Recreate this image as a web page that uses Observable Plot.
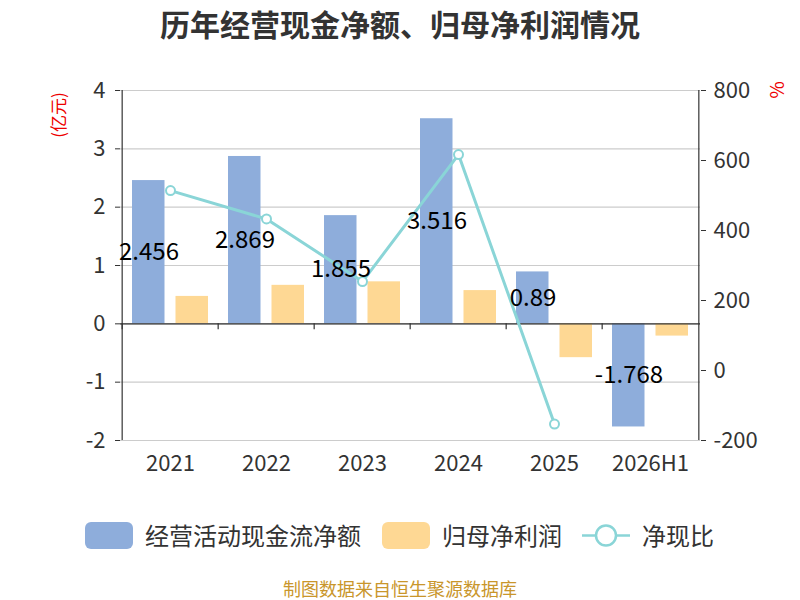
<!DOCTYPE html>
<html><head><meta charset="utf-8">
<script src="https://cdn.jsdelivr.net/npm/d3@7"></script>
<script src="https://cdn.jsdelivr.net/npm/@observablehq/plot@0.6"></script>
<style>
body{margin:0;background:#fff;font-family:"Noto Sans CJK SC","Noto Sans",sans-serif;}
#wrap{position:relative;width:800px;height:600px;overflow:hidden;}
#title{position:absolute;left:0;top:4px;width:800px;text-align:center;font-size:30px;font-weight:bold;color:#333;line-height:38px;}
#chart{position:absolute;left:0;top:50px;}
.yname{position:absolute;color:#e00;font-size:17px;line-height:18px;transform:translate(-50%,-50%) rotate(-90deg);white-space:nowrap;}
.lg{position:absolute;font-size:24px;color:#333;line-height:28px;white-space:nowrap;}
.sw{position:absolute;width:48px;height:27px;border-radius:6px;}
#caption{position:absolute;left:0;top:577px;width:800px;text-align:center;font-size:18px;color:#c9962b;line-height:22px;}
</style></head><body>
<div id="wrap">
  <div id="title">历年经营现金净额、归母净利润情况</div>
  <div id="chart"></div>
  <div class="yname" style="left:58px;top:115px;">(亿元)</div>
  <div class="yname" style="left:776px;top:90px;font-size:19px;">%</div>
  <div class="sw" style="left:85px;top:522px;background:#8eaddb;"></div>
  <div class="lg" style="left:145px;top:521px;">经营活动现金流净额</div>
  <div class="sw" style="left:382px;top:522px;background:#fed894;"></div>
  <div class="lg" style="left:442px;top:521px;">归母净利润</div>
  <svg style="position:absolute;left:582px;top:522px;" width="48" height="27">
    <line x1="0" y1="13.5" x2="48" y2="13.5" stroke="#8ad5d7" stroke-width="2.5"/>
    <circle cx="24" cy="13.5" r="10" fill="#fff" stroke="#8ad5d7" stroke-width="2.5"/>
  </svg>
  <div class="lg" style="left:642px;top:521px;">净现比</div>
  <div id="caption">制图数据来自恒生聚源数据库</div>
</div>
<script>
const years = ["2021", "2022", "2023", "2024", "2025", "2026H1"];
const cashFlow = [2.456, 2.869, 1.855, 3.516, 0.89, -1.768];
const netProfit = [0.47, 0.66, 0.72, 0.57, -0.58, -0.21];
const ratioYears = ["2021", "2022", "2023", "2024", "2025"];
const ratio = [514, 433, 254, 617, -153];
const leftTicks = [-2, -1, 0, 1, 2, 3, 4];
const rightTicks = [-200, 0, 200, 400, 600, 800];

const toLeft = r => -2 + (r + 200) / 1000 * 6;
const fromLeft = v => Math.round((v + 2) / 6 * 1000 - 200);

const cashData = years.map((year, i) => ({year, v: cashFlow[i]}));
const profitData = years.map((year, i) => ({year, v: netProfit[i]}));
const ratioData = ratioYears.map((year, i) => ({year, v: toLeft(ratio[i])}));

const W = 800, H = 440, ML = 120, MR = 100;
const half = (W - ML - MR) / years.length / 2;
const teal = "#8ad5d7";

const chart = Plot.plot({
  width: W, height: H,
  marginTop: 40, marginBottom: 50, marginLeft: ML, marginRight: MR,
  x: {type: "band", domain: years, padding: 0, label: null},
  y: {domain: [-2, 4], label: null},
  style: {fontFamily: "'Noto Sans CJK SC','Noto Sans',sans-serif", color: "#333", background: "#fff", overflow: "visible"},
  marks: [
    Plot.ruleY(leftTicks, {stroke: "#ccc", strokeWidth: 1.2}),
    Plot.barY(cashData, {x: "year", y: "v", fill: "#8eaddb", insetLeft: 10, insetRight: 53.5}),
    Plot.barY(profitData, {x: "year", y: "v", fill: "#fed894", insetLeft: 53.5, insetRight: 10}),
    Plot.ruleY([0], {stroke: "#333", strokeWidth: 1.2}),
    Plot.ruleX(years, {x: d => d, y1: 0, y2: -0.1, dx: -half, stroke: "#333", strokeWidth: 1.2}),
    Plot.ruleX([years[0]], {x: d => d, y1: -2, y2: 4, dx: -half, stroke: "#333", strokeWidth: 1.2}),
    Plot.ruleX([years[years.length - 1]], {x: d => d, y1: -2, y2: 4, dx: half, stroke: "#333", strokeWidth: 1.2}),
    Plot.lineY(ratioData, {x: "year", y: "v", stroke: teal, strokeWidth: 3}),
    Plot.dot(ratioData, {x: "year", y: "v", r: 4.5, fill: "#fff", stroke: teal, strokeWidth: 2}),
    Plot.text(cashData, {x: "year", y: d => d.v / 2, text: d => String(d.v), dx: -21.5, fontSize: 24, fill: "#000"}),
    Plot.axisY({ticks: leftTicks, tickSize: 5, tickPadding: 10, fontSize: 22, tickFormat: d => String(d), label: null}),
    Plot.axisY({anchor: "right", ticks: rightTicks.map(toLeft), tickSize: 5, tickPadding: 8, fontSize: 22, tickFormat: d => String(fromLeft(d)), label: null}),
    Plot.axisX({tickSize: 0, tickPadding: 15, fontSize: 22, label: null})
  ]
});
document.getElementById("chart").appendChild(chart);
</script>
</body></html>
